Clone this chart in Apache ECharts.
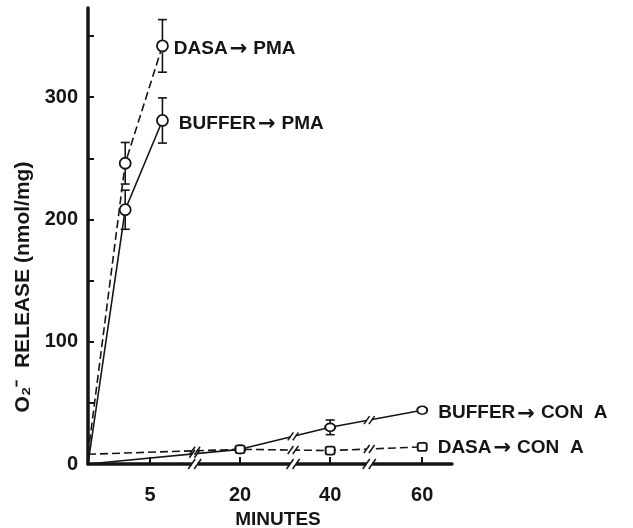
<!DOCTYPE html>
<html><head><meta charset="utf-8">
<script src="https://cdn.jsdelivr.net/npm/echarts@6/dist/echarts.min.js"></script>
<style>html,body{margin:0;padding:0;background:#fff}#c{width:633px;height:528px}</style>
</head><body><div id="c"></div>
<script>
// ---- data ----
const pmaMinutes = [0, 3, 6];
const bufferPMA = [0, 208, 281];
const bufferPMAErr = [0, 16, 18.5];
const dasaPMA = [8, 246, 342];
const dasaPMAErr = [0, 17, 21.5];
const conAMinutes = [0, 20, 40, 60];
const bufferConA = [0, 12, 30, 44];
const bufferConAErr = [0, 2, 6, 2];
const dasaConA = [8, 12, 11, 14];
const dasaConAErr = [0, 2, 3, 2];
const xTickValues = [5, 20, 40, 60];
const yTickValues = [0, 50, 100, 150, 200, 250, 300, 350];
const yLabelValues = [0, 100, 200, 300];
const axisBreakRanges = [[8.6, 16.34], [24.27, 37.01], [43.15, 55.73]];
const seriesFrom = ['BUFFER', 'DASA', 'BUFFER', 'DASA'];
const seriesTo = ['PMA', 'PMA', 'CON  A', 'CON  A'];

const INK = '#151515';
const FONT = '"Liberation Sans", Arial, sans-serif';

function labelRich() {
  return {
    t: { color: INK, fontSize: 19, fontWeight: 'bold', fontFamily: FONT },
    a: { color: INK, fontSize: 21, fontWeight: 'bold', fontFamily: '"DejaVu Sans"', padding: [2, 6, 0, 2] }
  };
}
function lineData(minutes, values, from, to, labelOffset) {
  return minutes.map((m, i) => {
    const item = { value: [m, values[i]] };
    if (i === 0) item.symbol = 'none';
    if (i === minutes.length - 1) {
      item.label = { show: true, formatter: '{t|' + from + '}{a|\u2192}{t|' + to + '}', position: 'right', distance: 0,
        offset: labelOffset, rich: labelRich() };
    }
    return item;
  });
}
function errData(minutes, values, errs) {
  const out = [];
  minutes.forEach((m, i) => { if (errs[i] > 0) out.push([m, values[i] - errs[i], values[i] + errs[i]]); });
  return out;
}
function renderErr(params, api) {
  const x = api.value(0);
  const a = api.coord([x, api.value(1)]);
  const b = api.coord([x, api.value(2)]);
  const w = 4.5;
  const st = { stroke: INK, lineWidth: 1.6 };
  return { type: 'group', children: [
    { type: 'line', shape: { x1: a[0], y1: a[1], x2: b[0], y2: b[1] }, style: st },
    { type: 'line', shape: { x1: a[0] - w, y1: a[1], x2: a[0] + w, y2: a[1] }, style: st },
    { type: 'line', shape: { x1: b[0] - w, y1: b[1], x2: b[0] + w, y2: b[1] }, style: st }
  ]};
}
function lineSeries(name, data, dashed, symbol, symbolSize) {
  return { type: 'line', name, data, symbol, symbolSize, showAllSymbol: true, z: 3,
    lineStyle: { color: INK, width: 1.6, type: dashed ? [8, 4] : 'solid' },
    itemStyle: { color: '#fff', borderColor: INK, borderWidth: 1.8 },
    emphasis: { disabled: true }, animation: false };
}
function errSeries(data) {
  return { type: 'custom', data, renderItem: renderErr, encode: { x: 0, y: [1, 2] }, z: 1, silent: true, animation: false };
}

const titleGraphic = {
  type: 'text', x: 23, y: 287, rotation: Math.PI / 2, z: 100,
  style: { text: 'O\u2082\u207B  RELEASE (nmol/mg)', fill: INK, fontSize: 21, fontWeight: 'bold', fontFamily: FONT,
    align: 'center', verticalAlign: 'middle' }
};

const chart = echarts.init(document.getElementById('c'), null, { renderer: 'canvas' });
chart.setOption({
  animation: false,
  backgroundColor: '#fff',
  grid: { left: 88, right: 181, top: 8, bottom: 64, outerBoundsMode: 'none', containLabel: false },
  xAxis: {
    type: 'value', min: 0, max: 62.4,
    breaks: axisBreakRanges.map(r => ({ start: r[0], end: r[1], gap: 0 })),
    breakArea: { show: false },
    axisLine: { onZero: false, lineStyle: { color: INK, width: 3.5 } },
    axisTick: { inside: true, length: 7, lineStyle: { color: INK, width: 2 }, customValues: xTickValues },
    axisLabel: { customValues: xTickValues, color: INK, fontSize: 20, fontWeight: 'bold', fontFamily: FONT, margin: 21 },
    splitLine: { show: false },
    name: 'MINUTES', nameLocation: 'middle', nameGap: 46,
    nameTextStyle: { color: INK, fontSize: 19, fontWeight: 'bold', fontFamily: FONT, padding: [0, 0, 0, 16] }
  },
  yAxis: {
    type: 'value', min: 0, max: 373,
    axisLine: { show: true, lineStyle: { color: INK, width: 3.5 } },
    axisTick: { show: true, inside: true, length: 6, lineStyle: { color: INK, width: 2 }, customValues: yTickValues },
    axisLabel: { customValues: yLabelValues, color: INK, fontSize: 20, fontWeight: 'bold', fontFamily: FONT, margin: 10 },
    splitLine: { show: false }
  },
  graphic: [titleGraphic],
  series: [
    errSeries(errData(pmaMinutes, bufferPMA, bufferPMAErr)),
    errSeries(errData(pmaMinutes, dasaPMA, dasaPMAErr)),
    errSeries(errData(conAMinutes, bufferConA, bufferConAErr)),
    errSeries(errData(conAMinutes, dasaConA, dasaConAErr)),
    lineSeries(seriesFrom[0] + '-' + seriesTo[0], lineData(pmaMinutes, bufferPMA, seriesFrom[0], seriesTo[0], [10, 3]), false, 'circle', 11),
    lineSeries(seriesFrom[1] + '-' + seriesTo[1], lineData(pmaMinutes, dasaPMA, seriesFrom[1], seriesTo[1], [5, 3]), true, 'circle', 11),
    lineSeries(seriesFrom[2] + '-' + seriesTo[2], lineData(conAMinutes, bufferConA, seriesFrom[2], seriesTo[2], [10, 3]), false, 'circle', [10, 8]),
    lineSeries(seriesFrom[3] + '-' + seriesTo[3], lineData(conAMinutes, dasaConA, seriesFrom[3], seriesTo[3], [10, 1]), true, 'roundRect', [9, 8])
  ]
});

// ---- break marks ("//") on the axis and on the lines that cross each break ----
function slashMarks(cx, cy, h, gapW, lw) {
  const els = [{ type: 'rect', z: 100, shape: { x: cx - gapW / 2, y: cy - lw * 1.3, width: gapW, height: lw * 2.6 }, style: { fill: '#fff' } }];
  [-gapW / 2, gapW / 2].forEach(dx => {
    els.push({ type: 'line', z: 101, shape: { x1: cx + dx - h * 0.35, y1: cy + h / 2, x2: cx + dx + h * 0.35, y2: cy - h / 2 },
      style: { stroke: INK, lineWidth: 1.5 } });
  });
  return els;
}
const marks = [];
const axisY = chart.convertToPixel({ yAxisIndex: 0 }, 0);
axisBreakRanges.forEach(r => {
  const bx = chart.convertToPixel({ xAxisIndex: 0 }, r[0]);
  marks.push(...slashMarks(bx, axisY, 10, 6, 3.5));
  [[conAMinutes, bufferConA], [conAMinutes, dasaConA]].forEach(([ms, vs]) => {
    for (let i = 0; i < ms.length - 1; i++) {
      if (ms[i] <= r[0] && ms[i + 1] >= r[1]) {
        const p1 = chart.convertToPixel({ gridIndex: 0 }, [ms[i], vs[i]]);
        const p2 = chart.convertToPixel({ gridIndex: 0 }, [ms[i + 1], vs[i + 1]]);
        const t = (bx - p1[0]) / (p2[0] - p1[0]);
        const y = p1[1] + t * (p2[1] - p1[1]);
        marks.push(...slashMarks(bx, y, 8, 5, 1.6));
      }
    }
  });
});
chart.setOption({ graphic: [titleGraphic].concat(marks) });
</script>
</body></html>
